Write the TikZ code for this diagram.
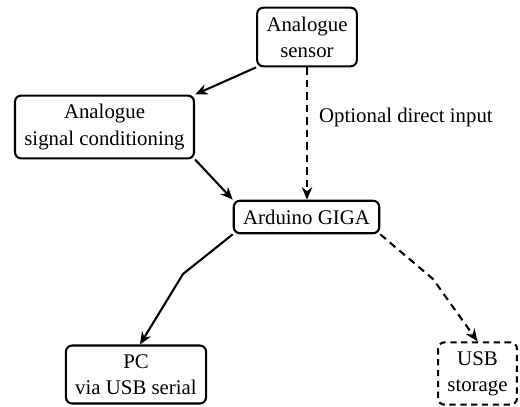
\documentclass[tikz,border=0pt]{standalone}
\usepackage{fontspec}
\setmainfont{Liberation Serif}
\usepackage{tikz}
\usetikzlibrary{arrows.meta,calc,positioning}

\begin{document}
\begin{tikzpicture}[x=.48pt,y=-.48pt,
    blockbox/.style={draw,line width=1pt,rounded corners=3pt,align=center,
      inner xsep=4.5pt,inner ysep=4.3pt,font=\rmfamily\fontsize{10}{12.5}\selectfont},
    optbox/.style={blockbox,dash pattern=on 3pt off 2.2pt},
    flow/.style={line width=1pt,-{Stealth[length=6pt,width=5pt]}},
    optflow/.style={flow,dash pattern=on 3.5pt off 2.5pt}]
    \useasboundingbox (0,0) rectangle (520,407);
    \node[blockbox] (sensor) at (307,37) {Analogue\\sensor};
    \node[blockbox] (cond) at (104.5,127) {Analogue\\signal conditioning};
    \node[blockbox] (giga) at (306.5,217) {Arduino GIGA};
    \node[blockbox] (pc) at (136,374.5) {PC\\via USB serial};
    \node[optbox] (usb) at (477.5,373.5) {USB\\storage};
    \coordinate (pcbend) at (183,274);
    \coordinate (usbbend) at (433,279);
    \draw[flow] (sensor.south west) -- (cond.north east);
    \draw[optflow] (sensor.south) -- node[right,pos=.38,font=\rmfamily\fontsize{10}{12.5}\selectfont,xshift=2pt] (optlabel) {Optional direct input} (giga.north -| sensor.south);
    \draw[flow] (cond.south east) -- (giga.north west);
    \draw[flow] (giga.south west) -- (pcbend) -- ($(pc.north)+(4,0)$);
    \draw[optflow] (giga.south east) -- (usbbend) -- (usb.north);
  \end{tikzpicture}
\end{document}
